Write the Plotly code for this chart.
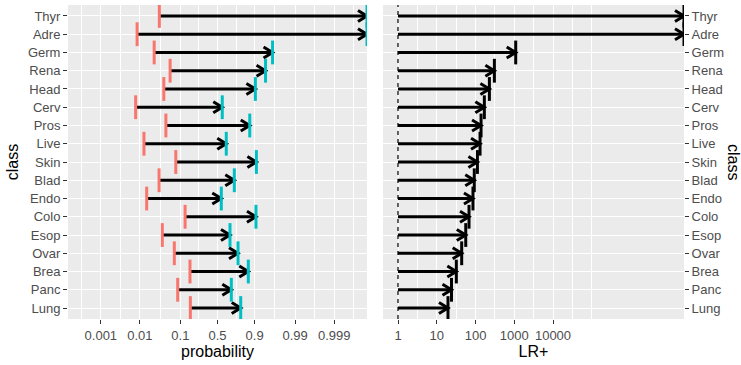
import numpy as np
import plotly.graph_objects as go

# ---------------- data ----------------
classes = ["Thyr", "Adre", "Germ", "Rena", "Head", "Cerv", "Pros", "Live", "Skin",
           "Blad", "Endo", "Colo", "Esop", "Ovar", "Brea", "Panc", "Lung"]
pre_prob = [0.031, 0.0085, 0.023, 0.057, 0.040, 0.0078, 0.045, 0.0127, 0.078,
            0.0305, 0.0149, 0.128, 0.0367, 0.072, 0.164, 0.0866, 0.167]
post_prob = [1.0, 1.0, 0.963, 0.945, 0.904, 0.570, 0.871, 0.627, 0.909,
             0.730, 0.556, 0.907, 0.677, 0.771, 0.861, 0.694, 0.798]
lr_pos = [np.inf, np.inf, 1090, 307, 228, 169, 139, 131, 112,
          93, 86, 68, 56, 44, 32, 24, 19.5]

prob_breaks = [0.001, 0.01, 0.1, 0.5, 0.9, 0.99, 0.999]
prob_labels = ["0.001", "0.01", "0.1", "0.5", "0.9", "0.99", "0.999"]
lr_breaks = [1, 10, 100, 1000, 10000]
lr_labels = ["1", "10", "100", "1000", "10000"]

# ---------------- layout constants ----------------
W, H = 741, 365
ML, MR, MT, MB = 68, 57, 5, 46
GAP = 16
PW = W - ML - MR
PH = H - MT - MB
LEFT_W = 299
x1_range = [-8.85, 8.85]
x2_range = [-0.387, 7.38]
n = len(classes)
y_range = [-0.6, n - 0.4]
yv = np.arange(n)[::-1].astype(float)

x1_ppu = LEFT_W / (x1_range[1] - x1_range[0])
x2_ppu = (PW - LEFT_W - GAP) / (x2_range[1] - x2_range[0])
y_ppu = PH / (y_range[1] - y_range[0])

RED = "#F8766D"
CYAN = "#00BFC4"
FONT = "Liberation Sans, Arial, sans-serif"


def logit(p):
    p = np.asarray(p, float)
    with np.errstate(divide="ignore"):
        return np.log(p / (1 - p))


def minor_breaks(b, rng):
    b = list(b)
    ext = [b[0] - (b[1] - b[0])] + b + [b[-1] + (b[-1] - b[-2])]
    out = []
    for a, c in zip(ext[:-1], ext[1:]):
        out += [a, (a + c) / 2]
    out.append(ext[-1])
    return [v for v in out if rng[0] <= v <= rng[1]]


def arrow_xy(x0, x1, y, ppu_x, back=9.0, half=5.5):
    dx = back / ppu_x
    dy = half / y_ppu
    xs, ys = [], []
    for a, b, yy in zip(x0, x1, y):
        xs += [a, b, None, b - dx, b, b - dx, None]
        ys += [yy, yy, None, yy + dy, yy, yy - dy, None]
    return xs, ys


# left panel (logit probability scale)
lx0 = logit(pre_prob)
lx1 = np.clip(logit(post_prob), *x1_range)
# right panel (log10 LR scale)
rx0 = np.zeros(n)
with np.errstate(divide="ignore"):
    rx1 = np.clip(np.log10(np.asarray(lr_pos, float)), *x2_range)

fig = go.Figure()

ax, ay = arrow_xy(lx0, lx1, yv, x1_ppu)
fig.add_trace(go.Scatter(x=ax, y=ay, mode="lines", xaxis="x", yaxis="y",
                         line=dict(color="black", width=3), hoverinfo="skip",
                         showlegend=False))
fig.add_trace(go.Scatter(x=lx0, y=yv, mode="markers", xaxis="x", yaxis="y",
                         marker=dict(symbol="line-ns", size=17,
                                     line=dict(color=RED, width=3)),
                         showlegend=False))
fig.add_trace(go.Scatter(x=lx1, y=yv, mode="markers", xaxis="x", yaxis="y",
                         marker=dict(symbol="line-ns", size=17,
                                     line=dict(color=CYAN, width=3)),
                         showlegend=False))

# right panel
fig.add_trace(go.Scatter(x=[1, 1], y=y_range, mode="lines", xaxis="x2", yaxis="y2",
                         line=dict(color="black", width=1.2, dash="4px,4px"),
                         hoverinfo="skip", showlegend=False))
bx, by = arrow_xy(rx0, rx1, yv, x2_ppu)
bx = [None if v is None else 10 ** v for v in bx]
fig.add_trace(go.Scatter(x=bx, y=by, mode="lines", xaxis="x2", yaxis="y2",
                         line=dict(color="black", width=3), hoverinfo="skip",
                         showlegend=False))
fig.add_trace(go.Scatter(x=10 ** rx1, y=yv, mode="markers", xaxis="x2", yaxis="y2",
                         marker=dict(symbol="line-ns", size=17,
                                     line=dict(color="black", width=3)),
                         showlegend=False))

tickfont = dict(family=FONT, size=13, color="#4D4D4D")
titlefont = dict(family=FONT, size=16, color="black")
common = dict(ticks="outside", ticklen=4, tickwidth=1, tickcolor="#333333",
              tickfont=tickfont, showgrid=True, gridcolor="white", gridwidth=1.4,
              zeroline=False, showline=False, fixedrange=True)

x1_major = list(logit(prob_breaks))
x2_major = [float(np.log10(v)) for v in lr_breaks]

fig.update_layout(
    width=W, height=H,
    margin=dict(l=ML, r=MR, t=MT, b=MB, pad=0),
    paper_bgcolor="white", plot_bgcolor="#EBEBEB",
    font=dict(family=FONT),
    showlegend=False,
    xaxis=dict(domain=[0, LEFT_W / PW], range=x1_range, anchor="y",
               tickmode="array", tickvals=x1_major, ticktext=prob_labels,
               minor=dict(tickmode="array",
                          tickvals=minor_breaks(x1_major, x1_range),
                          showgrid=True, gridcolor="white", gridwidth=1.0),
               title=dict(text="probability", font=titlefont, standoff=4),
               **common),
    xaxis2=dict(domain=[(LEFT_W + GAP) / PW, 1], type="log", range=x2_range,
                anchor="y2", tickmode="array", tickvals=lr_breaks, ticktext=lr_labels,
                minor=dict(tickmode="array",
                           tickvals=[10 ** v for v in minor_breaks(x2_major, x2_range)],
                           showgrid=True, gridcolor="white", gridwidth=1.0),
                title=dict(text="LR+", font=titlefont, standoff=4),
                **common),
    yaxis=dict(range=y_range, anchor="x", tickmode="array", tickvals=yv,
               ticktext=classes,
               title=dict(text="class", font=titlefont, standoff=5),
               **common),
    yaxis2=dict(range=y_range, anchor="x2", side="right", tickmode="array",
                tickvals=yv, ticktext=classes, **common),
    annotations=[dict(text="class", textangle=90, xref="paper", yref="paper",
                      x=(734 - ML) / PW, y=0.5, showarrow=False,
                      xanchor="center", yanchor="middle", font=titlefont)],
)

fig.write_html("out.html")
